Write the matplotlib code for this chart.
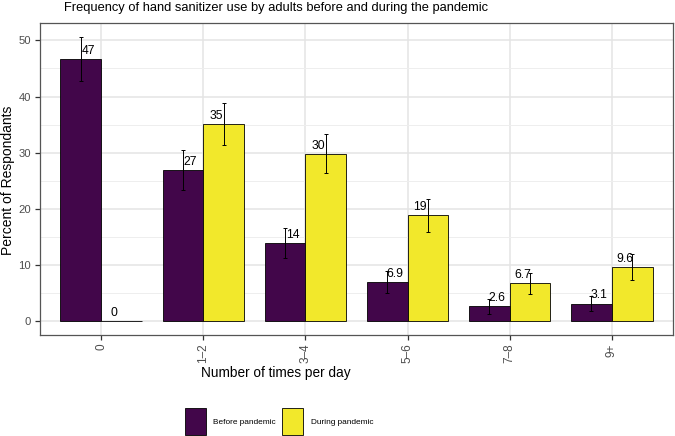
import numpy as np
import matplotlib
matplotlib.use('Agg')
import matplotlib.pyplot as plt
from matplotlib import font_manager

categories = ['0', '1\u20132', '3\u20134', '5\u20136', '7\u20138', '9+']
before = [46.7, 26.9, 13.9, 6.9, 2.6, 3.1]
during = [0, 35.1, 29.8, 18.8, 6.7, 9.6]
before_err = [3.85, 3.5, 2.7, 2.0, 1.3, 1.35]
during_err = [0, 3.7, 3.5, 3.0, 1.9, 2.3]
series_names = ['Before pandemic', 'During pandemic']

purple = '#42064A'
yellow = '#F2E82B'

# narrow face if we have one (the reference text is squeezed sideways)
names = {f.name for f in font_manager.fontManager.ttflist}
squeeze = 'Liberation Sans Narrow' in names
if squeeze:
    plt.rcParams['font.family'] = ['Liberation Sans Narrow', 'DejaVu Sans']
    grow = 1.0
else:
    plt.rcParams['font.family'] = ['Liberation Sans', 'DejaVu Sans']
    grow = 1.12  # split the difference between width and height

fig = plt.figure(figsize=(6.75, 4.36), dpi=100)
ax = fig.add_axes([40 / 675, 1 - 335 / 436, 633 / 675, 312 / 436])


def fit_size(s, target_px, size=10, **kw):
    # font size that makes string s target_px wide
    t = fig.text(0, 0, s, fontsize=size, **kw)
    fig.canvas.draw()
    wpx = t.get_window_extent().width
    t.remove()
    return size * target_px / wpx


tick_fs = fit_size('50', 12.0) * 1.05
val_fs = fit_size('47', 12.6) * 1.08
leg_fs = fit_size('Before pandemic', 56.0) * grow
title_fs = fit_size('Frequency of hand sanitizer use by adults before and during the pandemic', 365.0) * grow * 1.04
xlab_fs = fit_size('Number of times per day', 122.0) * grow * 1.1

x = np.arange(len(categories))
w = 0.4
b1 = ax.bar(x - w / 2, before, w, color=purple, edgecolor='black', linewidth=0.6, zorder=3,
            label=series_names[0])
b2 = ax.bar(x + w / 2, during, w, color=yellow, edgecolor='black', linewidth=0.6, zorder=3,
            label=series_names[1])

for xs, vals, errs in [(x - w / 2, before, before_err), (x + w / 2, during, during_err)]:
    for xi, v, e in zip(xs, vals, errs):
        if e > 0:
            ax.errorbar(xi, v, yerr=e, fmt='none', ecolor='black', elinewidth=0.7,
                        capsize=1.2, capthick=0.7, zorder=4)

for xs, vals in [(x - 0.125, before), (x + 0.125, during)]:
    for xi, v in zip(xs, vals):
        ax.annotate(f'{v:.2g}', (xi, v), xytext=(0, 1.5), textcoords='offset points',
                    ha='center', va='bottom', fontsize=val_fs, color='black', zorder=5)

ax.set_xlim(-0.6, len(categories) - 0.4)
ax.set_ylim(-2.5, 53.1)
ax.set_yticks([0, 10, 20, 30, 40, 50])
ax.set_yticks([5, 15, 25, 35, 45], minor=True)
ax.set_xticks(x)
ax.set_xticklabels(categories, rotation=90, va='top', ha='center')
ax.grid(which='major', color='#E4E4E4', linewidth=1.1, zorder=0)
ax.grid(which='minor', axis='y', color='#EEEEEE', linewidth=0.7, zorder=0)
ax.set_axisbelow(True)
ax.tick_params(axis='both', which='major', length=3.5, width=0.9, color='#333333',
               labelsize=tick_fs, labelcolor='#4D4D4D', pad=3)
ax.tick_params(axis='x', labelsize=8.5, pad=2.5)
ax.tick_params(axis='y', which='minor', length=0)
for s in ax.spines.values():
    s.set_color('#555555')
    s.set_linewidth(0.9)

fig.text(276.5 / 675, 1 - 10.5 / 436, 'Frequency of hand sanitizer use by adults before and during the pandemic',
         ha='center', va='baseline', fontsize=title_fs)
fig.text(276 / 675, 1 - 373 / 436, 'Number of times per day', ha='center', va='center', fontsize=xlab_fs)
fig.text(8 / 675, 1 - 180 / 436, 'Percent of Respondants', rotation=90, ha='center', va='center',
         fontsize=10, family=['Liberation Sans', 'DejaVu Sans'])

fpx = leg_fs * 100 / 72
fig.legend(handles=[b1, b2], loc='center', bbox_to_anchor=(279 / 675, 1 - 421.5 / 436), ncol=2,
           frameon=False, fontsize=leg_fs, handlelength=21 / fpx,
           handleheight=(27 / fpx - 0.245) / 0.65, handletextpad=7.3 / fpx,
           columnspacing=6.7 / fpx, borderpad=0, borderaxespad=0)

fig.savefig('out.png', dpi=100)
